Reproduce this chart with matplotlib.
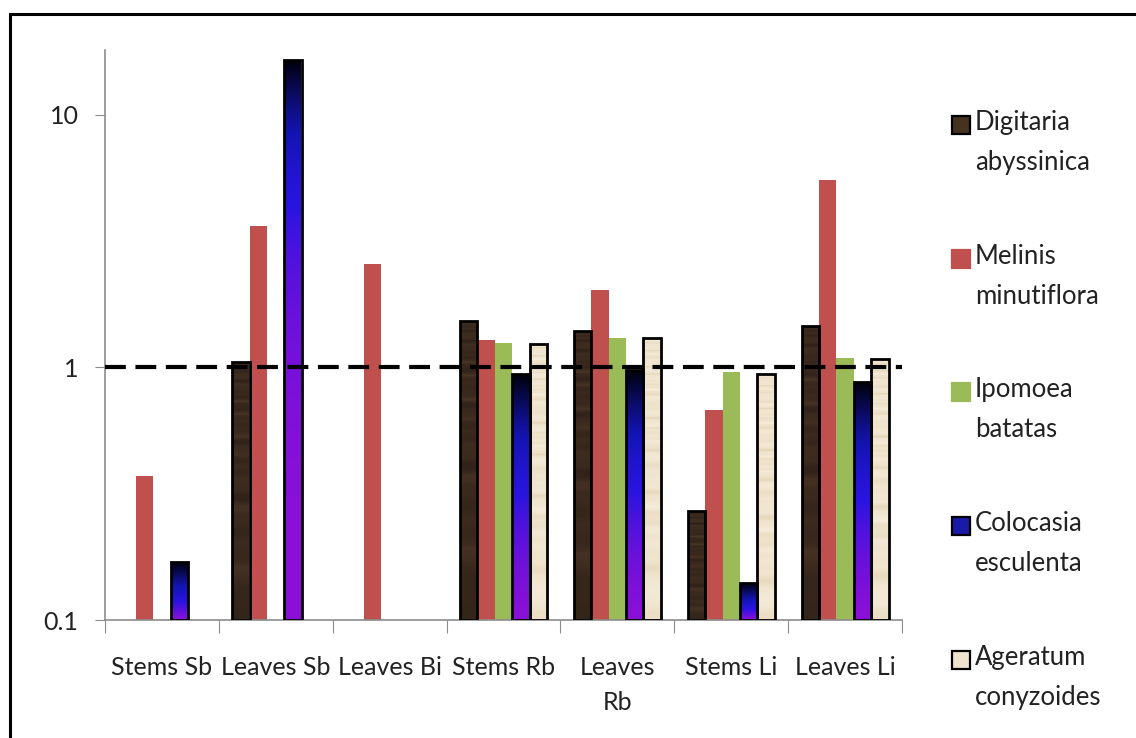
import numpy as np
import matplotlib
matplotlib.use("Agg")
import matplotlib.pyplot as plt
from matplotlib.patches import Rectangle
from matplotlib.colors import LinearSegmentedColormap

plt.rcParams["font.family"] = ["Lato", "DejaVu Sans"]

categories = ["Stems Sb", "Leaves Sb", "Leaves Bi", "Stems Rb", "Leaves\nRb", "Stems Li", "Leaves Li"]
species = ["Digitaria\nabyssinica", "Melinis\nminutiflora", "Ipomoea\nbatatas",
           "Colocasia\nesculenta", "Ageratum\nconyzoides"]
nan = np.nan
digitaria = [nan, 1.05, nan, 1.52, 1.39, 0.27, 1.46]
melinis = [0.37, 3.63, 2.56, 1.28, 2.02, 0.68, 5.5]
ipomoea = [nan, nan, nan, 1.25, 1.30, 0.96, 1.09]
colocasia = [0.17, 16.4, nan, 0.94, 0.975, 0.14, 0.875]
ageratum = [nan, nan, nan, 1.24, 1.30, 0.94, 1.08]
series = [digitaria, melinis, ipomoea, colocasia, ageratum]

W, H = 1136, 738
fig = plt.figure(figsize=(W / 100, H / 100), dpi=100)
ax = fig.add_axes([105 / W, 1 - 620 / H, (902 - 105) / W, (620 - 50) / H])

ax.set_yscale("log")
ax.set_ylim(0.1, 18)
ax.set_xlim(0, len(categories))

bw = 0.153
x = np.arange(len(categories)) + 0.5

# textures / gradients for the fancy fills
wood = LinearSegmentedColormap.from_list("wood", ["#30221a", "#3e2c1f", "#5e4834"])
n = np.arange(70)
wood_rows = (0.35 + 0.25 * np.sin(n * 1.7) * np.sin(n * 0.37) + 0.15 * np.sin(n * 0.9)).reshape(-1, 1)
blue = LinearSegmentedColormap.from_list("blue", ["#000008", "#0a0a5a", "#1414b4", "#2a14e0", "#8a10d8"])
grad = np.linspace(0, 1, 100).reshape(-1, 1)
beige = LinearSegmentedColormap.from_list("beige", ["#dccaa8", "#eee2cb", "#f5eddc"])
m = np.arange(90)
beige_rows = (0.6 + 0.25 * np.sin(m * 2.3) * np.cos(m * 0.7) + 0.15 * np.sin(m * 1.1)).reshape(-1, 1)

flat = {1: "#c0504d", 2: "#9bbb59"}
for i, vals in enumerate(series):
    xs = x + (i - 2) * bw
    if i in flat:
        ax.bar(xs, np.array(vals) - 0.1, bottom=0.1, width=bw, color=flat[i], linewidth=0, zorder=2)
        continue
    bars = ax.bar(xs, np.array(vals) - 0.1, bottom=0.1, width=bw, facecolor="none",
                  edgecolor="black", linewidth=2, zorder=3)
    for b, v in zip(bars, vals):
        if np.isnan(v):
            continue
        x0 = b.get_x()
        ext = [x0, x0 + bw, 0.1, v]
        if i == 0:
            img, cm = wood_rows, wood
        elif i == 3:
            img, cm = grad, blue
        else:
            img, cm = beige_rows, beige
        im = ax.imshow(img, cmap=cm, extent=ext, origin="upper", aspect="auto",
                       interpolation="bilinear", vmin=0, vmax=1, zorder=2)
        im.set_clip_path(b)
ax.set_xlim(0, len(categories))
ax.set_ylim(0.1, 18)

ax.axhline(1, color="black", linestyle=(0, (5, 2.3)), linewidth=3, zorder=4)

for s in ["top", "right"]:
    ax.spines[s].set_visible(False)
for s in ["left", "bottom"]:
    ax.spines[s].set_color("#8c8c8c")
    ax.spines[s].set_linewidth(1.2)

ax.set_yticks([0.1, 1, 10])
ax.set_yticklabels(["0.1", "1", "10"])
ax.yaxis.set_minor_locator(matplotlib.ticker.NullLocator())
ax.tick_params(axis="y", length=7, color="#8c8c8c", labelsize=18, pad=12, labelcolor="#222222")

ax.set_xticks(np.arange(len(categories) + 1))
ax.set_xticklabels([])
ax.set_xticks(x, minor=True)
ax.set_xticklabels(categories, minor=True, fontsize=18, color="#222222", linespacing=1.65)
ax.tick_params(axis="x", which="major", length=9, color="#8c8c8c")
ax.tick_params(axis="x", which="minor", length=0, pad=26)

# legend
leg_colors = ["#45321f", "#c0504d", "#9bbb59", "#1a1aa8", "#eee3cf"]
leg_edges = ["black", "#c0504d", "#9bbb59", "black", "black"]
leg_y = [125, 259, 392, 526, 660]
for name, fc, ec, yc in zip(species, leg_colors, leg_edges, leg_y):
    fig.add_artist(Rectangle((952 / W, 1 - (yc + 9) / H), 18 / W, 18 / H,
                             transform=fig.transFigure, facecolor=fc, edgecolor=ec, linewidth=1.6))
    fig.text(975 / W, 1 - (yc - 15) / H, name, fontsize=18.5, va="top", ha="left",
             color="#222222", linespacing=1.75)

# outer frame
fig.add_artist(Rectangle((10 / W, -0.1), 2, 1.1 - 14 / H, transform=fig.transFigure,
                         facecolor="none", edgecolor="black", linewidth=2.2))

fig.savefig("out.png", dpi=100)
